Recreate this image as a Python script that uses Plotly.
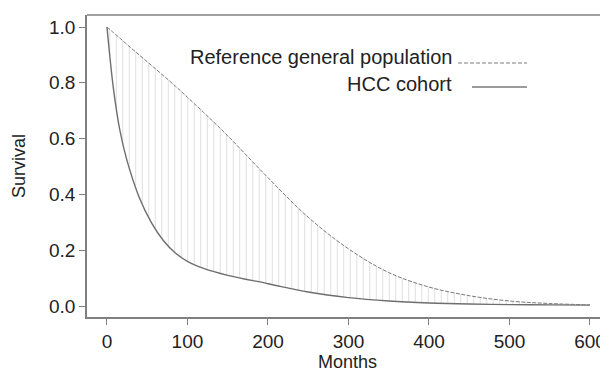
import plotly.graph_objects as go

months = [0, 8, 16, 25, 40, 55, 70, 85, 100, 120, 150, 200, 250, 300, 350, 400, 450, 500, 550, 600]
hcc_cohort = [1.0, 0.78, 0.63, 0.52, 0.39, 0.30, 0.235, 0.19, 0.16, 0.135, 0.11, 0.08, 0.05,
              0.03, 0.018, 0.011, 0.007, 0.005, 0.004, 0.003]
reference_pop = [1.0, 0.98, 0.96, 0.937, 0.90, 0.863, 0.826, 0.788, 0.748, 0.694, 0.61, 0.46, 0.318,
                 0.205, 0.12, 0.068, 0.037, 0.018, 0.009, 0.004]

x_ticks = [0, 100, 200, 300, 400, 500, 600]
y_ticks = [0.0, 0.2, 0.4, 0.6, 0.8, 1.0]
y_tick_labels = ["0.0", "0.2", "0.4", "0.6", "0.8", "1.0"]

legend_labels = ["Reference general population", "HCC cohort"]

FONT = "Liberation Sans, Arial, Helvetica, sans-serif"
TXT = "#222222"
AX = "#808080"

fig = go.Figure()
fig.add_trace(go.Scatter(x=months, y=hcc_cohort, mode="lines", line_shape="spline",
                         line=dict(color="#6e6e6e", width=1.4), showlegend=False,
                         hoverinfo="skip"))
fig.add_trace(go.Scatter(x=months, y=reference_pop, mode="lines", line_shape="spline",
                         line=dict(color="#7a7a7a", width=1, dash="4px,1.5px"),
                         fill="tonexty", fillcolor="white",
                         fillpattern=dict(shape="|", size=6.5, solidity=0.15,
                                          fgcolor="#bcbcbc", bgcolor="white"),
                         showlegend=False, hoverinfo="skip"))

# page has an 8px body margin; the figure sits at (8, 8)
OFF = 8
W, H = 600, 371
L, R, T, B = 79, 0, 7, 62
pw, ph = W - L - R, H - T - B


def px2paper(px, py):
    return (px - OFF - L) / pw, (H - B - (py - OFF)) / ph


shapes = [dict(type="line", xref="paper", yref="paper", x0=0, x1=1.01, y0=1, y1=1,
               line=dict(color=AX, width=1.5))]
annotations = []
legend_rows = [(57, 63, 458, "4px,2px", 1.2), (84, 87, 472, "solid", 1.6)]
for label, (ty, ly, lx0, dash, w) in zip(legend_labels, legend_rows):
    ax_, ay_ = px2paper(454, ty)
    annotations.append(dict(text=label, xref="paper", yref="paper", x=ax_, y=ay_,
                            xanchor="right", yanchor="middle", showarrow=False,
                            font=dict(family=FONT, size=20, color=TXT)))
    x0, y0 = px2paper(lx0, ly)
    x1, _ = px2paper(527, ly)
    shapes.append(dict(type="line", xref="paper", yref="paper", x0=x0, x1=x1, y0=y0, y1=y0,
                       line=dict(color="#7a7a7a", width=w, dash=dash)))

fig.update_layout(
    width=W, height=H,
    margin=dict(l=L, r=R, t=T, b=B, pad=0, autoexpand=False),
    paper_bgcolor="white", plot_bgcolor="white",
    font=dict(family=FONT, size=18, color=TXT),
    shapes=shapes, annotations=annotations,
    xaxis=dict(range=[-24.8, 622.4], tickvals=x_ticks, ticks="outside", ticklen=6,
               tickcolor=AX, tickwidth=1.2, showline=True, linecolor=AX, linewidth=1.5,
               showgrid=False, zeroline=False, tickfont=dict(size=19, color=TXT),
               automargin=False,
               title=dict(text="Months", font=dict(size=18, color=TXT), standoff=2)),
    yaxis=dict(range=[-0.0394, 1.043], tickvals=y_ticks, ticktext=y_tick_labels,
               ticks="outside", ticklen=6, tickcolor=AX, tickwidth=1.2,
               showline=True, linecolor=AX, linewidth=1.5, showgrid=False, zeroline=False,
               tickfont=dict(size=19, color=TXT), automargin=False,
               title=dict(text="Survival", font=dict(size=18, color=TXT), standoff=19)),
)

fig.write_html("out.html")
